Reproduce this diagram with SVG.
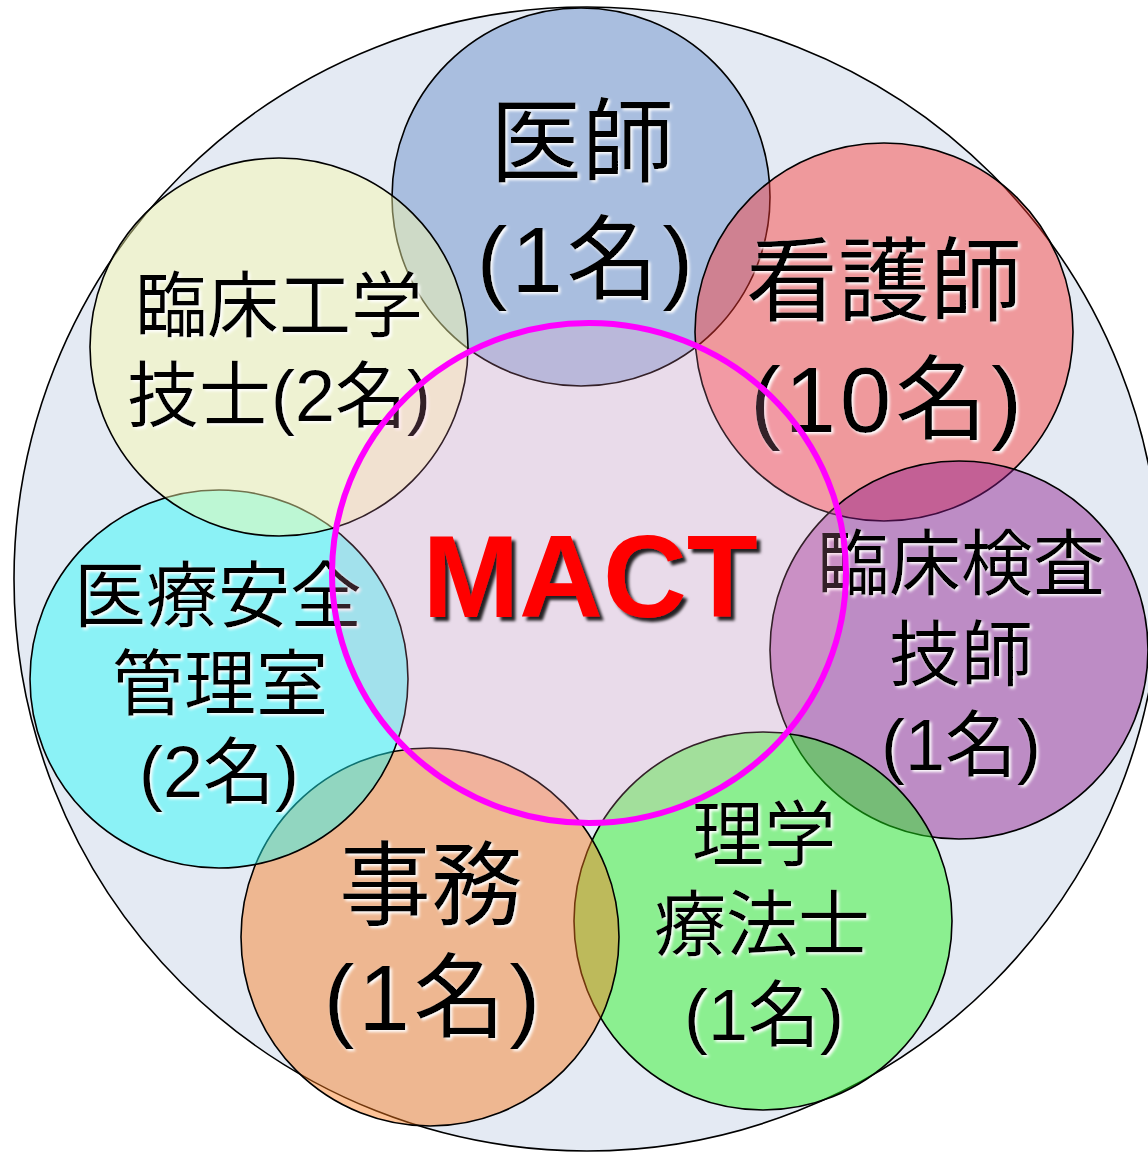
<svg xmlns="http://www.w3.org/2000/svg" width="1148" height="1153" viewBox="0 0 1148 1153">
<defs>
<style>
.c{stroke:#000;stroke-width:1.6}
.t{font-family:"Liberation Sans","Noto Sans CJK JP",sans-serif;fill:#000;text-anchor:middle;filter:url(#glow)}
.big{font-size:92px}
.sm{font-size:72px}
.sp{letter-spacing:4px}
.mact{font-family:"Liberation Sans",Arial,sans-serif;font-weight:bold;font-size:116px;fill:#ff0000;text-anchor:middle;filter:url(#shadow)}
</style>
<filter id="glow" x="-10%" y="-20%" width="125%" height="150%">
<feDropShadow dx="2" dy="2" stdDeviation="1.6" flood-color="#ffffff" flood-opacity="1"/>
</filter>
<filter id="shadow" x="-10%" y="-20%" width="125%" height="150%">
<feDropShadow dx="4" dy="4" stdDeviation="1.8" flood-color="#000000" flood-opacity="0.85"/>
</filter>
</defs>
<rect width="1148" height="1153" fill="#ffffff"/>
<g id="outer">
<ellipse cx="587" cy="579" rx="573" ry="572" fill="#e4eaf3" stroke="#000" stroke-width="1.6"/>
</g>
<g id="node-ishi">
<circle class="c" cx="581" cy="197" r="189" fill="#618ac7" fill-opacity="0.45"/>
<text class="t big" x="582" y="175">医師</text>
<text class="t big sp" x="587" y="292">(1名)</text>
</g>
<g id="node-kangoshi">
<circle class="c" cx="884" cy="332" r="189" fill="#fc3834" fill-opacity="0.45"/>
<text class="t big" x="884" y="314">看護師</text>
<text class="t big sp" x="888" y="432">(10名)</text>
</g>
<g id="node-rinsho-kensa">
<circle class="c" cx="959" cy="650" r="189" fill="#8d1b8d" fill-opacity="0.45"/>
<text class="t sm" x="961" y="589">臨床検査</text>
<text class="t sm" x="961" y="680">技師</text>
<text class="t sm" x="961" y="770">(1名)</text>
</g>
<g id="node-rigaku">
<circle class="c" cx="763" cy="921" r="189" fill="#20f719" fill-opacity="0.45"/>
<text class="t sm" x="764" y="860">理学</text>
<text class="t sm" x="762" y="950">療法士</text>
<text class="t sm" x="764" y="1040">(1名)</text>
</g>
<g id="node-jimu">
<circle class="c" cx="430" cy="937" r="189" fill="#fa791b" fill-opacity="0.45"/>
<text class="t big" x="431" y="918">事務</text>
<text class="t big sp" x="434" y="1030">(1名)</text>
</g>
<g id="node-anzen">
<circle class="c" cx="219" cy="679" r="189" fill="#20fcfa" fill-opacity="0.45"/>
<text class="t sm" x="218" y="621">医療安全</text>
<text class="t sm" x="220" y="709">管理室</text>
<text class="t sm" x="219" y="797">(2名)</text>
</g>
<g id="node-kogaku">
<circle class="c" cx="279" cy="347" r="189" fill="#fafcaa" fill-opacity="0.45"/>
<text class="t sm" x="279" y="331">臨床工学</text>
<text class="t sm" x="279" y="421">技士(2名)</text>
</g>
<g id="node-mact">
<ellipse cx="589" cy="573" rx="257" ry="250" fill="#ffa0c8" fill-opacity="0.2" stroke="#ff00ff" stroke-width="6"/>
<text class="mact" x="590" y="617">MACT</text>
</g>
<g id="connectors"/>
</svg>
